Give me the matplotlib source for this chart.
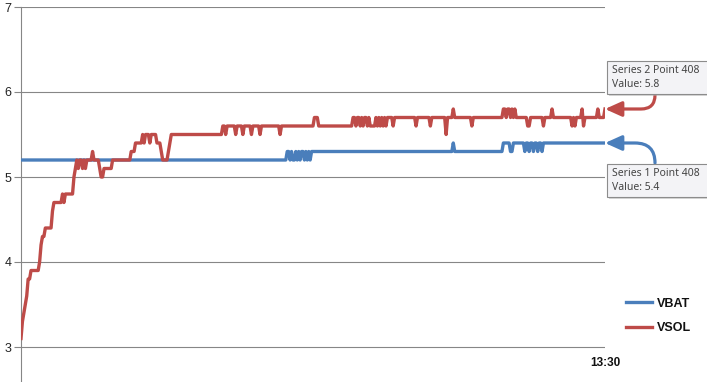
import numpy as np
import matplotlib
matplotlib.use("Agg")
import matplotlib.pyplot as plt
from matplotlib import patches

# run-length readings of the two series: (value, number of points)
vbat_segments = [
    (5.2, 186),
    (5.3, 2), (5.2, 1), (5.3, 1), (5.2, 2), (5.3, 1), (5.2, 1), (5.3, 1), (5.2, 1),
    (5.3, 2), (5.2, 1), (5.3, 1), (5.2, 1), (5.3, 1), (5.2, 1), (5.3, 1),
    (5.3, 98), (5.4, 1), (5.3, 34),
    (5.4, 5), (5.3, 2), (5.4, 8), (5.3, 1), (5.4, 2), (5.3, 1), (5.4, 2), (5.3, 1),
    (5.4, 2), (5.3, 1), (5.4, 2), (5.3, 1), (5.4, 44),
]
vsol_segments = [
    (3.1, 1), (3.3, 1), (3.4, 1), (3.5, 1), (3.6, 1), (3.8, 2), (3.9, 6), (4.0, 1),
    (4.2, 1), (4.3, 2), (4.4, 5), (4.6, 1), (4.7, 6), (4.8, 1), (4.7, 1), (4.8, 6),
    (5.0, 1), (5.1, 1), (5.2, 1), (5.1, 1), (5.2, 2), (5.1, 1), (5.2, 1), (5.1, 1),
    (5.2, 4), (5.3, 1), (5.2, 4), (5.1, 1), (5.0, 2), (5.1, 6), (5.2, 13),
    (5.3, 3), (5.4, 5), (5.5, 1), (5.4, 1), (5.5, 3), (5.4, 1), (5.5, 4), (5.4, 3),
    (5.3, 1), (5.2, 4), (5.3, 1), (5.4, 1), (5.5, 36),
    (5.6, 2), (5.5, 1), (5.6, 6), (5.5, 1), (5.6, 4), (5.5, 1), (5.6, 5), (5.5, 1),
    (5.6, 5), (5.5, 1), (5.6, 13), (5.5, 1), (5.6, 23), (5.7, 3), (5.6, 24),
    (5.7, 2), (5.6, 1), (5.7, 2), (5.6, 1), (5.7, 1), (5.6, 1), (5.7, 2), (5.6, 1),
    (5.7, 1), (5.6, 4), (5.7, 1), (5.6, 1), (5.7, 1), (5.6, 1), (5.7, 1), (5.6, 1),
    (5.7, 1), (5.6, 1), (5.7, 4), (5.6, 1),
    (5.7, 15), (5.6, 1), (5.7, 9), (5.6, 1), (5.7, 10), (5.5, 1), (5.7, 4), (5.8, 1),
    (5.7, 12), (5.6, 1), (5.7, 21),
    (5.8, 2), (5.7, 1), (5.8, 2), (5.7, 1), (5.8, 1), (5.7, 1), (5.8, 1), (5.7, 8),
    (5.6, 2), (5.7, 9), (5.6, 1), (5.7, 5), (5.8, 1), (5.7, 13),
    (5.6, 1), (5.7, 1), (5.6, 1), (5.7, 4), (5.8, 1), (5.6, 1), (5.7, 9), (5.8, 1),
    (5.7, 4), (5.8, 1),
]

series_names = ["VBAT", "VSOL"]
y_ticks = [3, 4, 5, 6, 7]
x_label = "13:30"
tooltips = ["Series 2 Point 408\nValue: 5.8", "Series 1 Point 408\nValue: 5.4"]


def expand(segments):
    vals, runs = zip(*segments)
    return np.repeat(vals, runs)


vbat = expand(vbat_segments)
vsol = expand(vsol_segments)
assert len(vbat) == 409 and len(vsol) == 409, (len(vbat), len(vsol))
idx = np.arange(len(vbat))

W, H = 707, 382
blue = "#4A7EBB"
red = "#BE4B48"
grid_c = "#868686"

plt.rcParams["font.family"] = ["Liberation Sans", "DejaVu Sans"]

fig = plt.figure(figsize=(W / 100, H / 100), dpi=100)
# axes: left edge at x=21px, right at 605px, top at y=7px, bottom at the image edge
ax = fig.add_axes([21 / W, 0, (605 - 21) / W, 1 - 7 / H])

ax.plot(idx, vbat, color=blue, lw=2.4, solid_joinstyle="round", label=series_names[0], zorder=3)
ax.plot(idx, vsol, color=red, lw=2.4, solid_joinstyle="round", label=series_names[1], zorder=4)

ax.set_xlim(0, 408)
ax.set_ylim(3 - 35 / 85, 7)
ax.set_yticks(y_ticks)
ax.set_yticklabels([str(t) for t in y_ticks])
ax.set_xticks([])
ax.grid(axis="y", color=grid_c, lw=0.8)
ax.set_axisbelow(True)
for side in ["top", "right", "bottom"]:
    ax.spines[side].set_visible(False)
ax.spines["left"].set_color(grid_c)
ax.spines["left"].set_linewidth(0.8)
ax.tick_params(axis="y", length=5, width=0.8, color=grid_c, pad=2,
               labelsize=9, labelcolor="#222222")

ax.text(408, 2.81, x_label, ha="center", va="center", fontsize=8.5,
        fontweight="bold", color="#111111", clip_on=False)

leg = ax.legend(loc="center left", bbox_to_anchor=(626 / W, 1 - 316 / H),
                bbox_transform=fig.transFigure, frameon=False, borderpad=0,
                borderaxespad=0, handlelength=2.1, handletextpad=0.35,
                labelspacing=1.0, prop={"size": 9, "weight": "bold"})
for t in leg.get_texts():
    t.set_color("#111111")


def px_box(x0, y0, x1, y1):
    return (x0 / W, 1 - y1 / H), (x1 - x0) / W, (y1 - y0) / H


# data tooltips
for (y0, y1), txt in zip([(61, 94), (164, 197)], tooltips):
    xy, w, h = px_box(609, y0 + 2, 712, y1 + 2)
    fig.add_artist(patches.Rectangle(xy, w, h, transform=fig.transFigure,
                                     fc="#b0b0b0", ec="none", alpha=0.5, zorder=5))
    xy, w, h = px_box(607, y0, 710, y1)
    fig.add_artist(patches.Rectangle(xy, w, h, transform=fig.transFigure,
                                     fc="#f3f3f6", ec="#8c8c8c", lw=0.8, zorder=6))
    fig.text(612 / W, 1 - (y0 + y1) / 2 / H, txt, ha="left", va="center",
             fontsize=7.5, color="#444444", linespacing=1.35, zorder=7,
             family=["Noto Sans", "DejaVu Sans"])

# arrows from the tooltips to the last points
ax.annotate("", xy=(408, vsol[-1]), xycoords="data",
            xytext=(655, H - 95), textcoords="figure pixels",
            arrowprops=dict(arrowstyle="-|>,head_length=1.0,head_width=0.45",
                            connectionstyle="angle,angleA=90,angleB=0,rad=14",
                            color=red, lw=2.3, shrinkA=0, shrinkB=0),
            annotation_clip=False, zorder=8)
ax.annotate("", xy=(408, vbat[-1]), xycoords="data",
            xytext=(655, H - 163), textcoords="figure pixels",
            arrowprops=dict(arrowstyle="-|>,head_length=1.0,head_width=0.45",
                            connectionstyle="angle,angleA=90,angleB=0,rad=20",
                            color=blue, lw=2.3, shrinkA=0, shrinkB=0),
            annotation_clip=False, zorder=8)

fig.savefig("out.png", dpi=100)
